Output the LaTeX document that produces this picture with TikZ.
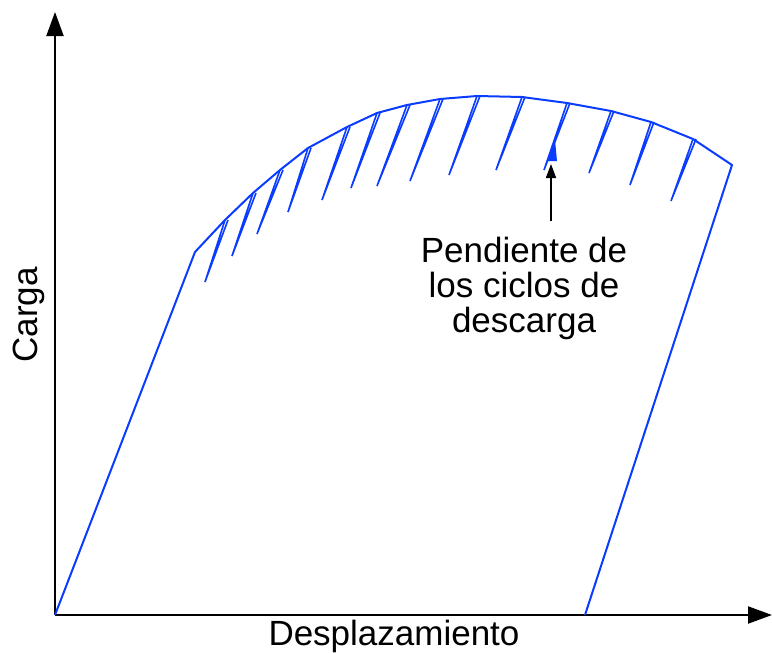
\documentclass[tikz,border=0pt]{standalone}
\usepackage{fontspec}
\setmainfont{Liberation Sans}
\usepackage{xcolor}
\usetikzlibrary{arrows.meta}
\definecolor{Curve-Blue}{RGB}{10, 60, 255}

\begin{document}
\begin{tikzpicture}[x=1pt, y=-1pt, font=\fontsize{35}{35}\selectfont,
    axis/.style={line width=2pt, -{Triangle[length=24pt, width=17pt]}},
    curve/.style={Curve-Blue, line width=2pt, line join=round},
    cycle/.style={Curve-Blue, line width=1.6pt}]

    \useasboundingbox (0,0) rectangle (772,653);

    % axes
    \coordinate (origin) at (55,615);
    \coordinate (ytop) at (55,12);
    \coordinate (xend) at (772,615);
    \draw[axis] (origin) -- (ytop);
    \draw[axis] (origin) -- (xend);

    \node[rotate=90] (carga) at (29,315) {Carga};
    \node (despl) at (394,636) {Desplazamiento};

    % load curve
    \coordinate (yield) at (195,252);
    \coordinate (peak) at (732,165);
    \coordinate (rest) at (585,615);
    \draw[curve] (origin) -- (yield) -- (225,220) -- (253,193) -- (280,170) -- (308,148)
        -- (347,127) -- (377,113) -- (407,105) -- (440,99) -- (477,96) -- (522,97)
        -- (567,103) -- (611,111) -- (651,122) -- (693,139) -- (peak) -- (rest);

    % unloading cycles
    \foreach \tx/\ty/\bx/\by in {225/220/205/282, 253/193/232/256, 280/170/257/234,
        308/148/288/212, 347/127/322/200, 377/113/351/188, 407/105/377/186,
        440/99/410/181, 477/96/449/175, 522/97/496/170, 567/103/544/170,
        611/111/589/173, 651/122/630/185, 693/139/671/201}
    {
        \draw[cycle] (\tx,\ty) -- (\bx,\by) -- (\tx+3,\ty);
    }

    % slope mark
    \coordinate (tip) at (551,164);
    \fill[Curve-Blue] (555,140) -- (547,161) -- (557,161) -- cycle;

    \node[align=center] (slope) at (524,288) {Pendiente de\\los ciclos de\\descarga};
    \draw[line width=1.6pt, -{Triangle[length=14pt, width=10pt]}] ([yshift=12pt]slope.north -| tip) -- (tip);

\end{tikzpicture}
\end{document}
